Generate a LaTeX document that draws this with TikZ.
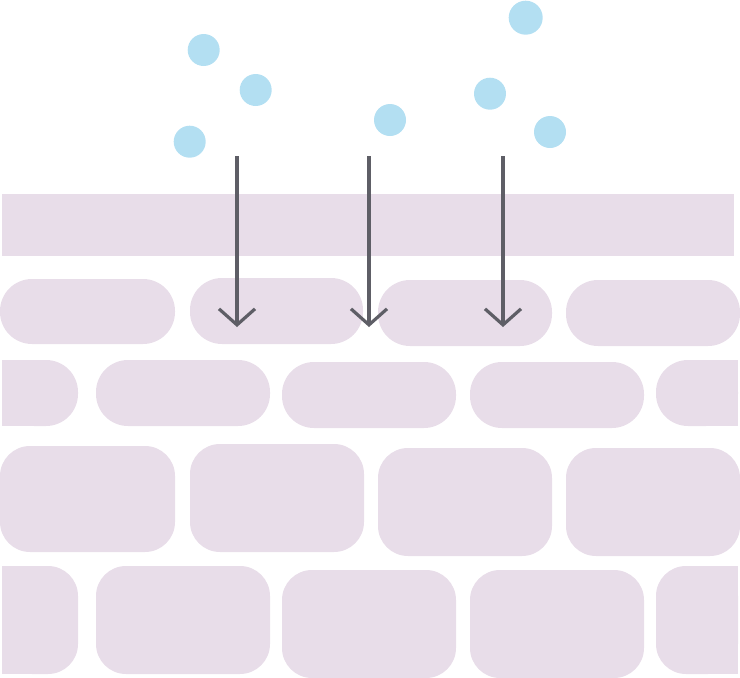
\documentclass[tikz,border=0pt]{standalone}
\usetikzlibrary{arrows.meta}
\definecolor{brickc}{HTML}{E8DDE9}
\definecolor{dotc}{HTML}{B3DFF2}
\definecolor{arrowc}{HTML}{5E5E66}
\tikzset{
  brick/.style={fill=brickc, draw=none},
  dot/.style={circle, fill=dotc, draw=none, minimum size=32pt, inner sep=0pt},
  flow/.style={draw=arrowc, line width=3.2pt, -{Straight Barb[length=16pt, width=36pt, line join=miter]}},
}
\begin{document}
\begin{tikzpicture}[x=1pt,y=1pt]
\useasboundingbox (0,0) rectangle (740,-678);
% top band
\fill[brick] (2,-194) rectangle (734,-256);
% row 1
\fill[brick, rounded corners=32pt] (0,-279) rectangle (175,-344);
\fill[brick, rounded corners=32pt] (190,-278) rectangle (363,-344);
\fill[brick, rounded corners=32pt] (378,-280) rectangle (552,-346);
\fill[brick, rounded corners=32pt] (566,-280) rectangle (740,-346);
% row 2
\fill[brick, rounded corners=32pt] (2,-360) rectangle (78,-426);
\fill[brick] (2,-360) rectangle (40,-426);
\fill[brick, rounded corners=32pt] (96,-360) rectangle (270,-426);
\fill[brick, rounded corners=32pt] (282,-362) rectangle (456,-428);
\fill[brick, rounded corners=32pt] (470,-362) rectangle (644,-428);
\fill[brick, rounded corners=32pt] (656,-360) rectangle (738,-426);
\fill[brick] (700,-360) rectangle (738,-426);
% row 3
\fill[brick, rounded corners=30pt] (0,-446) rectangle (175,-552);
\fill[brick, rounded corners=30pt] (190,-444) rectangle (364,-552);
\fill[brick, rounded corners=30pt] (378,-448) rectangle (552,-556);
\fill[brick, rounded corners=30pt] (566,-448) rectangle (740,-556);
% row 4
\fill[brick, rounded corners=30pt] (2,-566) rectangle (78,-674);
\fill[brick] (2,-566) rectangle (40,-674);
\fill[brick, rounded corners=30pt] (96,-566) rectangle (270,-674);
\fill[brick, rounded corners=30pt] (282,-570) rectangle (456,-678);
\fill[brick, rounded corners=30pt] (470,-570) rectangle (644,-678);
\fill[brick, rounded corners=30pt] (656,-566) rectangle (738,-674);
\fill[brick] (700,-566) rectangle (738,-674);
% dots
\node[dot] (d1) at (203.7,-50) {};
\node[dot] (d2) at (255.7,-90) {};
\node[dot] (d3) at (189.7,-141.7) {};
\node[dot] (d4) at (390,-120) {};
\node[dot, minimum width=34pt] (d5) at (525.7,-17.7) {};
\node[dot] (d6) at (490,-93.7) {};
\node[dot] (d7) at (550,-132) {};
% arrows
\coordinate (s1) at (237,-156);
\coordinate (e1) at (237,-327);
\coordinate (s2) at (369,-156);
\coordinate (e2) at (369,-327);
\coordinate (s3) at (503,-156);
\coordinate (e3) at (503,-327);
\draw[flow] (s1) -- (e1);
\draw[flow] (s2) -- (e2);
\draw[flow] (s3) -- (e3);
\end{tikzpicture}
\end{document}
